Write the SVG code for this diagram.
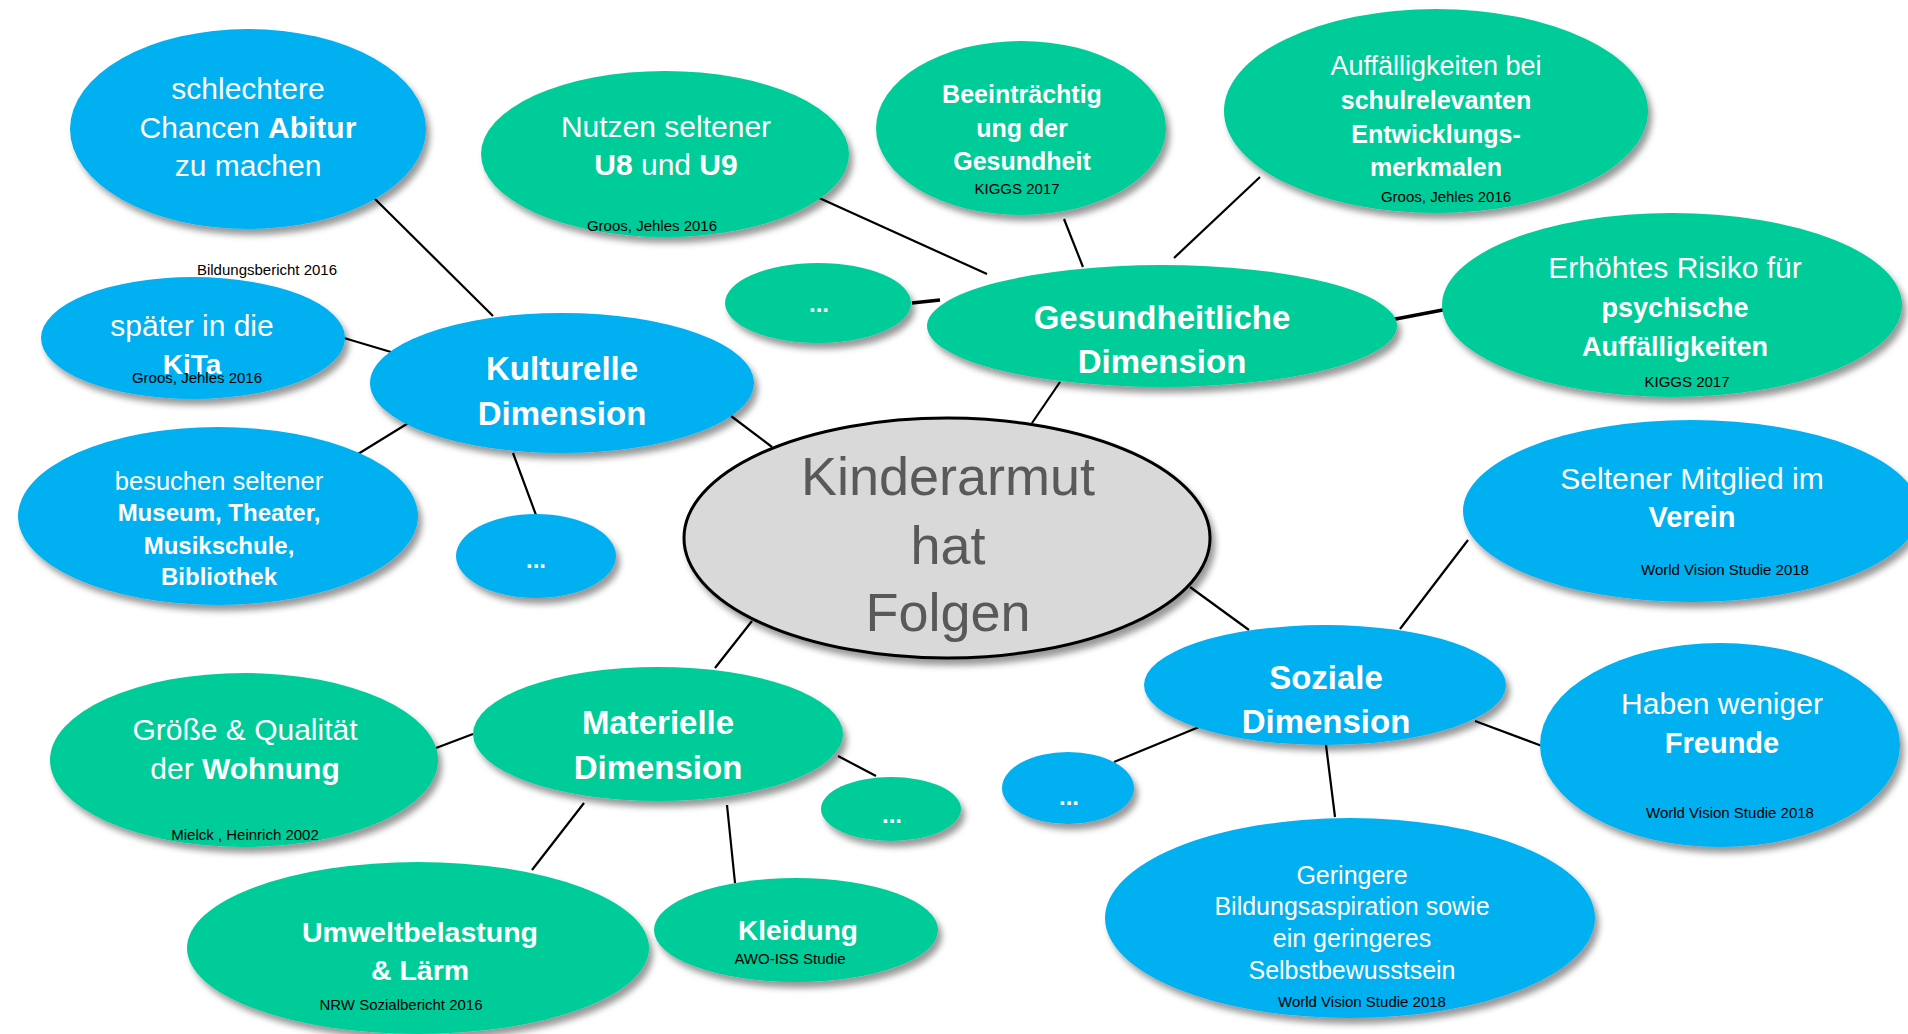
<svg xmlns="http://www.w3.org/2000/svg" width="1908" height="1034" viewBox="0 0 1908 1034">
<defs>
<filter id="sh" x="-10%" y="-10%" width="125%" height="130%">
<feDropShadow dx="4" dy="6" stdDeviation="3" flood-color="#000" flood-opacity="0.4"/>
</filter>
</defs>
<style>
.blue{fill:#00B0F0;filter:url(#sh)}
.green{fill:#00CC99;filter:url(#sh)}
.center{fill:#D9D9D9;stroke:#000;stroke-width:3;filter:url(#sh)}
text{font-family:"Liberation Sans",Arial,sans-serif;text-anchor:middle;fill:#fff}
.b{font-weight:bold}
.cite{font-size:15px;fill:#000}
.dots{font-size:24px;font-weight:bold}
.main{font-size:54px;fill:#595959}
.dim{font-size:33px;font-weight:bold}
#connectors line{stroke:#000;stroke-width:2.2}
#connectors line.thick{stroke-width:3.5}
</style>
<rect width="1908" height="1034" fill="#fff"/>
<g id="connectors">
<line x1="374" y1="198" x2="493" y2="316"/>
<line x1="344" y1="338" x2="391" y2="352"/>
<line x1="358" y1="454" x2="410" y2="422"/>
<line x1="536" y1="515" x2="513" y2="453"/>
<line x1="731" y1="416" x2="772" y2="447"/>
<line x1="715" y1="668" x2="752" y2="621"/>
<line x1="436" y1="748" x2="473" y2="734"/>
<line x1="838" y1="756" x2="876" y2="776"/>
<line x1="532" y1="870" x2="584" y2="803"/>
<line x1="735" y1="883" x2="727" y2="805"/>
<line x1="1190" y1="587" x2="1249" y2="630"/>
<line x1="1468" y1="540" x2="1400" y2="629"/>
<line x1="1475" y1="721" x2="1542" y2="746"/>
<line x1="1199" y1="727" x2="1114" y2="762"/>
<line x1="1326" y1="745" x2="1335" y2="817"/>
<line x1="1060" y1="382" x2="1032" y2="423"/>
<line x1="817" y1="197" x2="987" y2="274"/>
<line x1="1064" y1="219" x2="1083" y2="267"/>
<line x1="1260" y1="177" x2="1174" y2="258"/>
<line class="thick" x1="1380" y1="322" x2="1453" y2="308"/>
<line class="thick" x1="912" y1="303" x2="940" y2="300"/>
</g>

<g id="n-abitur">
<ellipse class="blue" cx="248" cy="129" rx="178" ry="100"/>
<text font-size="30" x="248" y="99">schlechtere</text>
<text font-size="30" x="248" y="138">Chancen <tspan class="b">Abitur</tspan></text>
<text font-size="30" x="248" y="176">zu machen</text>
</g>
<g id="n-bildungsbericht">
<text class="cite" x="267" y="275">Bildungsbericht 2016</text>
</g>
<g id="n-u8">
<ellipse class="green" cx="665" cy="154" rx="184" ry="83"/>
<text font-size="30" x="666" y="137">Nutzen seltener</text>
<text font-size="30" x="666" y="175"><tspan class="b">U8</tspan> und <tspan class="b">U9</tspan></text>
<text class="cite" x="652" y="231">Groos, Jehles 2016</text>
</g>
<g id="n-beeintraechtigung">
<ellipse class="green" cx="1021" cy="128" rx="145" ry="87"/>
<text class="b" font-size="25" x="1022" y="103">Beeinträchtig</text>
<text class="b" font-size="25" x="1022" y="137">ung der</text>
<text class="b" font-size="25" x="1022" y="170">Gesundheit</text>
<text class="cite" x="1017" y="194">KIGGS 2017</text>
</g>
<g id="n-auffaelligkeiten">
<ellipse class="green" cx="1436" cy="111" rx="212" ry="102"/>
<text font-size="27" x="1436" y="75">Auffälligkeiten bei</text>
<text class="b" font-size="25" x="1436" y="109">schulrelevanten</text>
<text class="b" font-size="25" x="1436" y="143">Entwicklungs-</text>
<text class="b" font-size="25" x="1436" y="176">merkmalen</text>
<text class="cite" x="1446" y="202">Groos, Jehles 2016</text>
</g>
<g id="n-risiko">
<ellipse class="green" cx="1672" cy="305" rx="230" ry="92"/>
<text font-size="30" x="1675" y="278">Erhöhtes Risiko für</text>
<text class="b" font-size="27" x="1675" y="317">psychische</text>
<text class="b" font-size="27" x="1675" y="356">Auffälligkeiten</text>
<text class="cite" x="1687" y="387">KIGGS 2017</text>
</g>
<g id="n-gesundheit">
<ellipse class="green" cx="1162" cy="326" rx="235" ry="61"/>
<text class="dim" x="1162" y="329">Gesundheitliche</text>
<text class="dim" x="1162" y="373">Dimension</text>
</g>
<g id="n-dots-gesundheit">
<ellipse class="green" cx="818" cy="303" rx="93" ry="40"/>
<text class="dots" x="819" y="312">...</text>
</g>
<g id="n-kita">
<ellipse class="blue" cx="193" cy="338" rx="152" ry="61"/>
<text font-size="30" x="192" y="336">später in die</text>
<text class="b" font-size="28" x="192" y="374">KiTa</text>
<text class="cite" x="197" y="383">Groos, Jehles 2016</text>
</g>
<g id="n-kulturelle">
<ellipse class="blue" cx="562" cy="383" rx="192" ry="70"/>
<text class="dim" x="562" y="380">Kulturelle</text>
<text class="dim" x="562" y="425">Dimension</text>
</g>
<g id="n-museum">
<ellipse class="blue" cx="218" cy="516" rx="200" ry="89"/>
<text font-size="25.5" x="219" y="490">besuchen seltener</text>
<text class="b" font-size="24" x="219" y="521">Museum, Theater,</text>
<text class="b" font-size="24" x="219" y="554">Musikschule,</text>
<text class="b" font-size="24" x="219" y="585">Bibliothek</text>
</g>
<g id="n-dots-kulturelle">
<ellipse class="blue" cx="536" cy="556" rx="80" ry="42"/>
<text class="dots" x="536" y="568">...</text>
</g>
<g id="n-center">
<ellipse class="center" cx="947" cy="538" rx="263" ry="120"/>
<text class="main" x="948" y="495">Kinderarmut</text>
<text class="main" x="948" y="564">hat</text>
<text class="main" x="948" y="631">Folgen</text>
</g>
<g id="n-materielle">
<ellipse class="green" cx="658" cy="734" rx="185" ry="67"/>
<text class="dim" font-size="34" x="658" y="734">Materielle</text>
<text class="dim" font-size="34" x="658" y="779">Dimension</text>
</g>
<g id="n-wohnung">
<ellipse class="green" cx="244" cy="760" rx="194" ry="87"/>
<text font-size="30" x="245" y="740">Größe &amp; Qualität</text>
<text font-size="30" x="245" y="779">der <tspan class="b">Wohnung</tspan></text>
<text class="cite" x="245" y="840">Mielck , Heinrich 2002</text>
</g>
<g id="n-dots-materielle">
<ellipse class="green" cx="891" cy="809" rx="70" ry="32"/>
<text class="dots" x="892" y="823">...</text>
</g>
<g id="n-umwelt">
<ellipse class="green" cx="418" cy="948" rx="231" ry="86"/>
<text class="b" font-size="28.5" x="420" y="942">Umweltbelastung</text>
<text class="b" font-size="28.5" x="420" y="980">&amp; Lärm</text>
<text class="cite" x="401" y="1010">NRW Sozialbericht 2016</text>
</g>
<g id="n-kleidung">
<ellipse class="green" cx="796" cy="930" rx="142" ry="52"/>
<text class="b" font-size="28" x="798" y="940">Kleidung</text>
<text class="cite" font-size="14" x="790" y="964">AWO-ISS Studie</text>
</g>
<g id="n-verein">
<ellipse class="blue" cx="1691" cy="511" rx="228" ry="91"/>
<text font-size="30" x="1692" y="489">Seltener Mitglied im</text>
<text class="b" font-size="29" x="1692" y="527">Verein</text>
<text class="cite" x="1725" y="575">World Vision Studie 2018</text>
</g>
<g id="n-soziale">
<ellipse class="blue" cx="1325" cy="685" rx="181" ry="60"/>
<text class="dim" x="1326" y="689">Soziale</text>
<text class="dim" x="1326" y="733">Dimension</text>
</g>
<g id="n-freunde">
<ellipse class="blue" cx="1720" cy="745" rx="180" ry="102"/>
<text font-size="30" x="1722" y="714">Haben weniger</text>
<text class="b" font-size="29" x="1722" y="753">Freunde</text>
<text class="cite" x="1730" y="818">World Vision Studie 2018</text>
</g>
<g id="n-dots-soziale">
<ellipse class="blue" cx="1068" cy="788" rx="66" ry="36"/>
<text class="dots" x="1069" y="805">...</text>
</g>
<g id="n-bildungsaspiration">
<ellipse class="blue" cx="1350" cy="918" rx="245" ry="100"/>
<text font-size="25" x="1352" y="884">Geringere</text>
<text font-size="25" x="1352" y="915">Bildungsaspiration sowie</text>
<text font-size="25" x="1352" y="947">ein geringeres</text>
<text font-size="25" x="1352" y="979">Selbstbewusstsein</text>
<text class="cite" x="1362" y="1007">World Vision Studie 2018</text>
</g>
</svg>
